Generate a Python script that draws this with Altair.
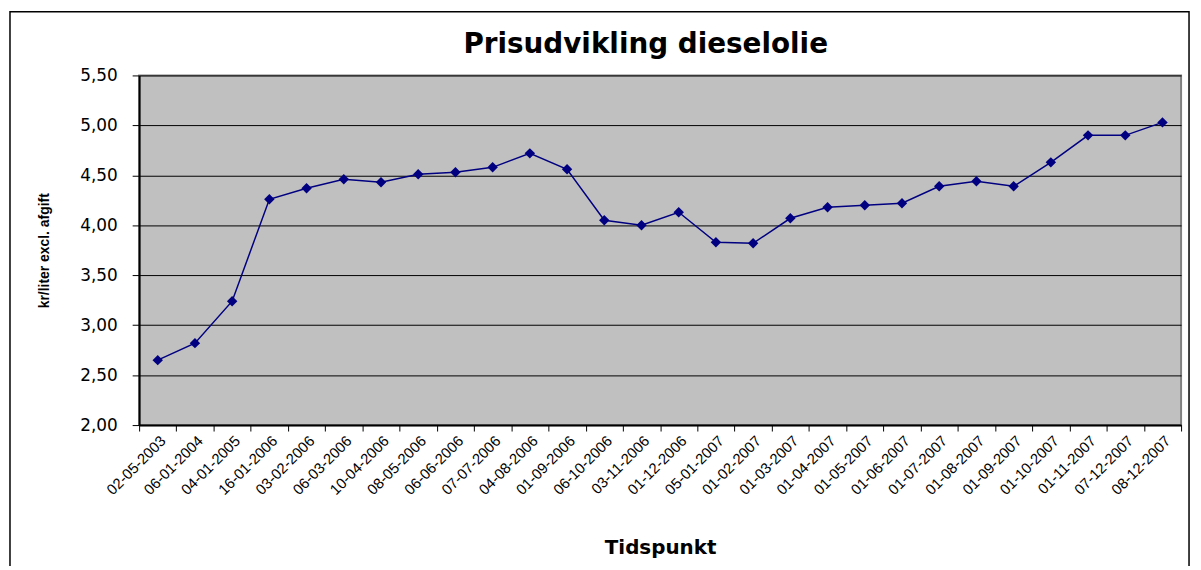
import altair as alt
import pandas as pd

dates = ["02-05-2003", "06-01-2004", "04-01-2005", "16-01-2006", "03-02-2006",
         "06-03-2006", "10-04-2006", "08-05-2006", "06-06-2006", "07-07-2006",
         "04-08-2006", "01-09-2006", "06-10-2006", "03-11-2006", "01-12-2006",
         "05-01-2007", "01-02-2007", "01-03-2007", "01-04-2007", "01-05-2007",
         "01-06-2007", "01-07-2007", "01-08-2007", "01-09-2007", "01-10-2007",
         "01-11-2007", "07-12-2007", "08-12-2007"]
prices = [2.65, 2.82, 3.24, 4.26, 4.37, 4.46, 4.43, 4.51, 4.53, 4.58,
          4.72, 4.56, 4.05, 4.00, 4.13, 3.83, 3.82, 4.07, 4.18, 4.20,
          4.22, 4.39, 4.44, 4.39, 4.63, 4.90, 4.90, 5.03]
y_ticks = [2.0, 2.5, 3.0, 3.5, 4.0, 4.5, 5.0, 5.5]
title_text = "Prisudvikling dieselolie"

df = pd.DataFrame({"Tidspunkt": dates, "Pris": prices})

FONT = "Liberation Sans"

x_enc = alt.X(
    "Tidspunkt:N", sort=None,
    scale=alt.Scale(type="band", paddingInner=0, paddingOuter=0),
    axis=alt.Axis(
        title="Tidspunkt", labelAngle=-45, labelFont=FONT, labelFontSize=15,
        labelColor="black", labelPadding=2, tickBand="extent", tickSize=6,
        tickColor="black", domainColor="black", domainWidth=2,
        titleFont="DejaVu Sans", titleFontSize=20, titleFontWeight="bold",
        titleColor="black", titlePadding=40, grid=False,
    ),
)
y_enc = alt.Y(
    "Pris:Q",
    scale=alt.Scale(domain=[2.0, 5.5], nice=False, zero=False),
    axis=alt.Axis(
        title="kr/liter excl. afgift", values=y_ticks,
        labelExpr="replace(format(datum.value, '.2f'), '.', ',')",
        labelFont="DejaVu Sans", labelFontSize=17, labelColor="black",
        labelPadding=15, tickSize=7, tickColor="black", domainColor="black",
        domainWidth=2, grid=True, gridColor="black", gridWidth=1,
        gridOpacity=1, titleFont=FONT, titleFontSize=14,
        titleFontWeight="bold", titleColor="black", titlePadding=28,
    ),
)

base = alt.Chart(df)
line = base.mark_line(color="#000080", strokeWidth=1.5).encode(x=x_enc, y=y_enc)
pts = base.mark_point(shape="diamond", filled=True, color="#000080",
                      size=110, opacity=1).encode(x=x_enc, y=y_enc)

one = pd.DataFrame({"a": [0]})
frame = alt.Chart(one).mark_rect(
    filled=False, stroke="black", strokeWidth=1.5, clip=False
).encode(
    x=alt.value(-130), x2=alt.value(1057),
    y=alt.value(-64), y2=alt.value(520),
)
title = alt.Chart(one).mark_text(
    text=title_text, font="DejaVu Sans", fontSize=28, fontWeight="bold",
    color="black", align="center", baseline="alphabetic", clip=False,
).encode(x=alt.value(510), y=alt.value(-23))

chart = alt.layer(line, pts, frame, title).properties(
    width=1049, height=352,
    autosize=alt.AutoSizeParams(type="none"),
    padding={"left": 132, "top": 66, "right": 12, "bottom": 140},
).configure(
    background="white"
).configure_view(
    fill="#C0C0C0", stroke="#808080", strokeWidth=2
)

chart.save("out.html", embed_options={"renderer": "svg", "actions": False})
